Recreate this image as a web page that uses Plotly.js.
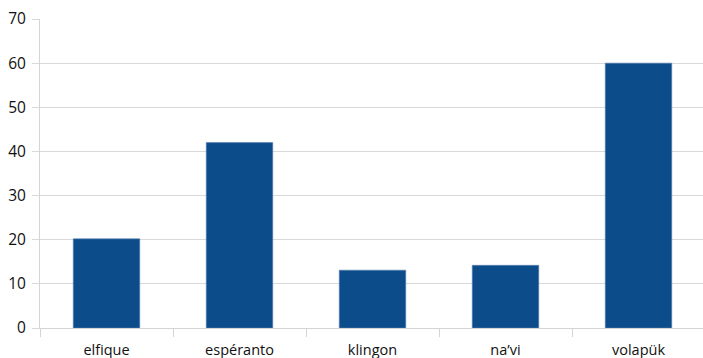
<!DOCTYPE html>
<html>
<head>
<meta charset="utf-8">
<script src="https://cdn.plot.ly/plotly-3.0.1.min.js"></script>
<style>html,body{margin:0;padding:0;background:#fff;}#chart{width:703px;height:358px;}</style>
</head>
<body>
<div id="chart"></div>
<script>
const categories = ["elfique", "espéranto", "klingon", "na’vi", "volapük"];
const values = [20.2, 42, 13.1, 14.2, 60];
const yTicks = [0, 10, 20, 30, 40, 50, 60, 70];

const trace = {
  type: "bar",
  x: categories,
  y: values,
  marker: { color: "#0d4c8a", line: { color: "#5a7fb0", width: 0.6 } },
  hoverinfo: "x+y"
};

const layout = {
  width: 703,
  height: 358,
  margin: { l: 40, r: 0, t: 19, b: 30, pad: 0 },
  paper_bgcolor: "#ffffff",
  plot_bgcolor: "#ffffff",
  bargap: 0.5,
  showlegend: false,
  font: { family: "Open Sans, sans-serif", size: 14, color: "#111111" },
  xaxis: {
    type: "category",
    range: [-0.5, 4.485],
    showgrid: false,
    showline: true,
    linecolor: "#d4d4d4",
    linewidth: 1,
    ticks: "outside",
    tickson: "boundaries",
    ticklen: 8,
    tickcolor: "#d4d4d4",
    ticklabelstandoff: 9,
    tickfont: { family: "Open Sans, sans-serif", size: 14.5, color: "#111111" },
    zeroline: false
  },
  yaxis: {
    range: [0, 70],
    tickvals: yTicks,
    ticktext: yTicks.map(String),
    showgrid: true,
    gridcolor: "#d9d9d9",
    gridwidth: 1,
    showline: true,
    linecolor: "#d4d4d4",
    ticks: "outside",
    ticklen: 7,
    tickcolor: "#d9d9d9",
    ticklabelstandoff: 3,
    tickfont: { family: "Open Sans, sans-serif", size: 15.5, color: "#111111" },
    zeroline: false
  }
};

Plotly.newPlot("chart", [trace], layout, { displayModeBar: false, staticPlot: true });
</script>
</body>
</html>
